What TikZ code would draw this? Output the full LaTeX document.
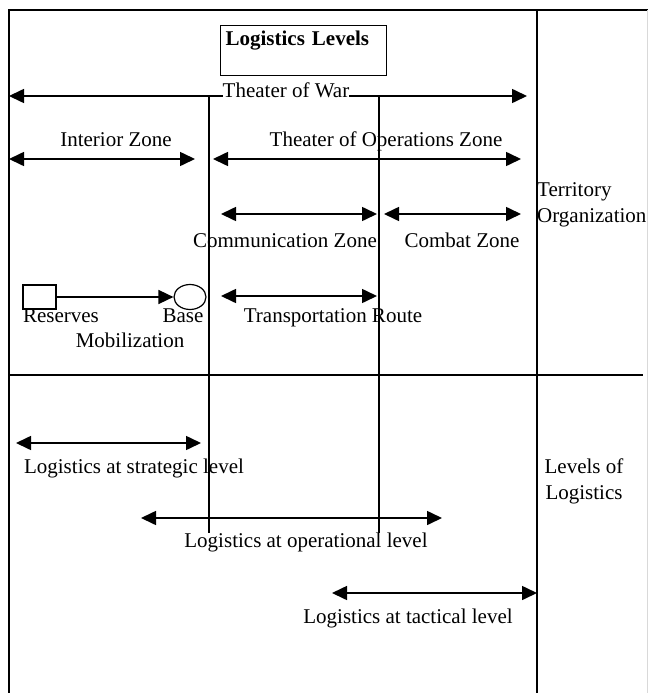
\documentclass[tikz,border=0pt]{standalone}
\usepackage{fontspec}
\setmainfont{Liberation Serif}
\usetikzlibrary{arrows.meta,shapes.geometric}
\begin{document}
\begin{tikzpicture}[x=1pt,y=-1pt,
    lbl/.style={font=\fontsize{21}{26}\selectfont, inner sep=0pt, anchor=base},
    twoway/.style={line width=1.6pt, {Triangle[length=15pt,width=14pt]}-{Triangle[length=15pt,width=14pt]}},
    oneway/.style={line width=1.6pt, -{Triangle[length=15pt,width=14pt]}},
    frame/.style={line width=1.2pt}]
    \useasboundingbox (0,0) rectangle (648,693);

    % frame and dividers
    \draw[frame] (648,10) -- (9,10) -- (9,693);
    \draw[frame] (537,10) -- (537,693);
    \draw[frame] (9,375) -- (643,375);
    \draw[gray!30, line width=0.6pt] (647,10) -- (647,693);
    \draw[frame] (209,96) -- (209,533);
    \draw[frame] (379,96) -- (379,533);

    % title
    \node[draw, frame, anchor=north west, align=left, inner xsep=5pt, inner ysep=5pt,
          text width=156pt, text height=15pt, text depth=25pt,
          font=\fontsize{21}{26}\selectfont\bfseries] (title) at (220,25) {Logistics Levels};

    % theater of war
    \coordinate (warL) at (9,96);
    \coordinate (warR) at (527,96);
    \draw[twoway] (warL) -- (warR);
    \node[lbl, fill=white] (war) at (286,97) {Theater of War};

    % zones
    \coordinate (intL) at (9,159);
    \coordinate (intR) at (195,159);
    \coordinate (opsL) at (213,159);
    \coordinate (opsR) at (521,159);
    \draw[twoway] (intL) -- (intR);
    \draw[twoway] (opsL) -- (opsR);
    \node[lbl] (interior) at (116,146) {Interior Zone};
    \node[lbl] (operations) at (386,146) {Theater of Operations Zone};

    \coordinate (comL) at (221,214);
    \coordinate (comR) at (377,214);
    \coordinate (cbtL) at (384,214);
    \coordinate (cbtR) at (521,214);
    \draw[twoway] (comL) -- (comR);
    \draw[twoway] (cbtL) -- (cbtR);
    \node[lbl] (communication) at (285,247) {Communication Zone};
    \node[lbl] (combat) at (462,247) {Combat Zone};

    \node[lbl, anchor=west, align=left] (territory) at (537,205) {Territory\\Organization};

    % mobilization
    \node[draw, frame, minimum width=33pt, minimum height=24pt, inner sep=0pt] (reserves) at (39.5,297) {};
    \node[draw, frame, shape=ellipse, minimum width=32pt, minimum height=25pt, inner sep=0pt] (base) at (190,297) {};
    \draw[oneway] (reserves) -- (base);
    \node[lbl] (reservestext) at (61,322) {Reserves};
    \node[lbl] (basetext) at (183,322) {Base};
    \node[lbl] (mobilization) at (130,347) {Mobilization};

    \coordinate (trpL) at (221,296);
    \coordinate (trpR) at (377,296);
    \draw[twoway] (trpL) -- (trpR);
    \node[lbl] (transport) at (333,322) {Transportation Route};

    % levels
    \coordinate (strL) at (16,443);
    \coordinate (strR) at (201,443);
    \draw[twoway] (strL) -- (strR);
    \node[lbl] (strategic) at (134,473) {Logistics at strategic level};

    \coordinate (oprL) at (141,518);
    \coordinate (oprR) at (442,518);
    \draw[twoway] (oprL) -- (oprR);
    \node[lbl] (operational) at (306,547) {Logistics at operational level};

    \coordinate (tacL) at (332,593);
    \coordinate (tacR) at (537,593);
    \draw[twoway] (tacL) -- (tacR);
    \node[lbl] (tactical) at (408,623) {Logistics at tactical level};

    \node[lbl, anchor=center, align=center] (levels) at (584,481) {Levels of\\Logistics};
\end{tikzpicture}
\end{document}
